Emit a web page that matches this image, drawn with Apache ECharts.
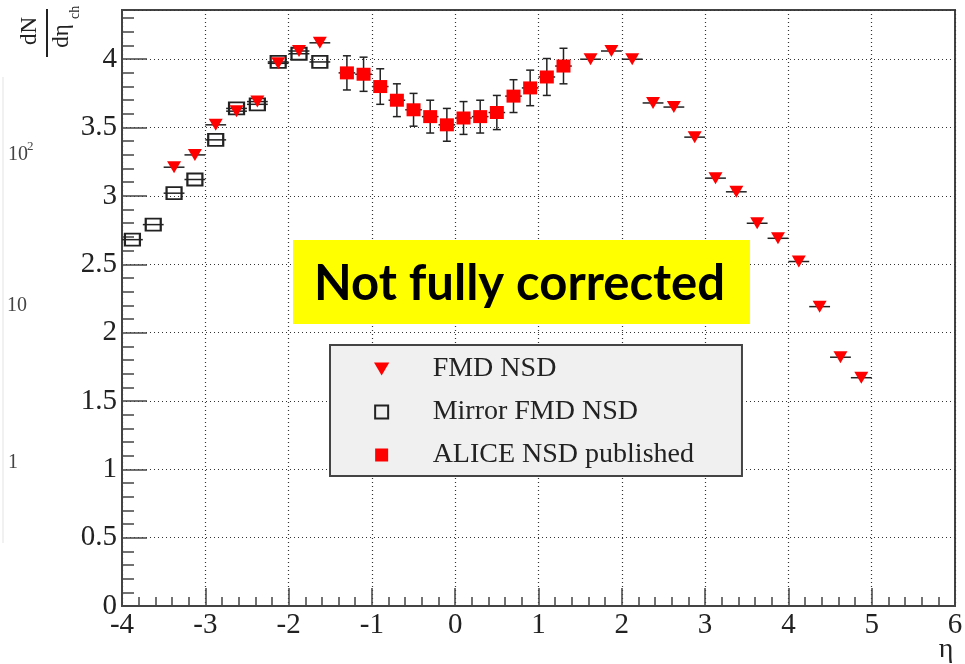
<!DOCTYPE html>
<html>
<head>
<meta charset="utf-8">
<script src="https://cdn.jsdelivr.net/npm/echarts@6/dist/echarts.min.js"></script>
<style>
  html, body { margin: 0; padding: 0; background: #ffffff; }
  #chart { width: 965px; height: 664px; }
</style>
</head>
<body>
<div id="chart"></div>
<script>
// FMD NSD, bins of width 0.25 in eta
const FMD_ETA = [-3.375, -3.125, -2.875, -2.625, -2.375, -2.125, -1.875, -1.625,
                 1.625, 1.875, 2.125, 2.375, 2.625, 2.875, 3.125, 3.375, 3.625, 3.875, 4.125, 4.375, 4.625, 4.875];
const FMD_DNDETA = [3.21, 3.30, 3.52, 3.62, 3.69, 3.97, 4.06, 4.12,
                    4.00, 4.06, 4.00, 3.68, 3.65, 3.43, 3.13, 3.03, 2.80, 2.69, 2.52, 2.19, 1.82, 1.67];
const FMD_HALF_BIN = 0.125;

// FMD NSD reflected to negative eta
const MIRROR_ETA = [-3.875, -3.625, -3.375, -3.125, -2.875, -2.625, -2.375, -2.125, -1.875, -1.625];
const MIRROR_DNDETA = [2.68, 2.79, 3.02, 3.12, 3.41, 3.64, 3.67, 3.98, 4.04, 3.98];

// ALICE published NSD, bins of width 0.2
const ALICE_ETA = [-1.3, -1.1, -0.9, -0.7, -0.5, -0.3, -0.1, 0.1, 0.3, 0.5, 0.7, 0.9, 1.1, 1.3];
const ALICE_DNDETA = [3.90, 3.89, 3.80, 3.70, 3.63, 3.58, 3.52, 3.57, 3.58, 3.61, 3.73, 3.79, 3.87, 3.95];
const ALICE_ERR = [0.125, 0.125, 0.13, 0.12, 0.12, 0.12, 0.12, 0.12, 0.12, 0.125, 0.12, 0.13, 0.135, 0.13];
const ALICE_HALF_BIN = 0.1;

// axis ranges
const X_MIN = -4, X_MAX = 6, X_STEP = 1;
const Y_MIN = 0, Y_MAX = 4.36, Y_STEP = 0.5, Y_MINOR_STEP = 0.1;
// faint labels of the log-scale panel behind
const LOG_LABELS = ['10', '10', '1'];

const SERIF = '"Liberation Serif", serif';
const INK = '#222222';
const AXIS = '#444444';
const RED = '#ff0000';

const chart = echarts.init(document.getElementById('chart'), null, { renderer: 'canvas' });

function hBar(halfBin) {
  return function (params, api) {
    const x = api.value(0), y = api.value(1);
    const l = api.coord([x - halfBin, y]);
    const r = api.coord([x + halfBin, y]);
    return {
      type: 'line',
      shape: { x1: l[0], y1: l[1], x2: r[0], y2: r[1] },
      style: { stroke: INK, lineWidth: 1.5 }
    };
  };
}

function aliceBars(params, api) {
  const x = api.value(0), y = api.value(1), e = api.value(2);
  const top = api.coord([x, y + e]);
  const bot = api.coord([x, y - e]);
  const l = api.coord([x - ALICE_HALF_BIN, y]);
  const r = api.coord([x + ALICE_HALF_BIN, y]);
  const cap = 4;
  const st = { stroke: INK, lineWidth: 1.5 };
  return {
    type: 'group',
    children: [
      { type: 'line', shape: { x1: top[0], y1: top[1], x2: bot[0], y2: bot[1] }, style: st },
      { type: 'line', shape: { x1: top[0] - cap, y1: top[1], x2: top[0] + cap, y2: top[1] }, style: st },
      { type: 'line', shape: { x1: bot[0] - cap, y1: bot[1], x2: bot[0] + cap, y2: bot[1] }, style: st },
      { type: 'line', shape: { x1: l[0], y1: l[1], x2: r[0], y2: r[1] }, style: st }
    ]
  };
}

const fmdData = FMD_ETA.map((x, i) => [x, FMD_DNDETA[i]]);
const mirrorData = MIRROR_ETA.map((x, i) => [x, MIRROR_DNDETA[i]]);
const aliceData = ALICE_ETA.map((x, i) => [x, ALICE_DNDETA[i], ALICE_ERR[i]]);

const TRI_DOWN = 'path://M0,0 L20,0 L10,17 Z';
const SQUARE = 'path://M0,0 L20,0 L20,20 L0,20 Z';
const dotted = { type: [1, 3], color: '#333333', width: 1.2 };
const tickFont = { fontFamily: SERIF, fontSize: 29, color: INK };

const option = {
  animation: false,
  backgroundColor: '#ffffff',
  textStyle: { fontFamily: SERIF },
  grid: {
    left: 122, right: 10, top: 10, bottom: 58,
    show: true, borderColor: AXIS, borderWidth: 2, backgroundColor: 'transparent',
    containLabel: false, outerBoundsMode: 'none'
  },
  xAxis: {
    type: 'value', min: X_MIN, max: X_MAX, interval: X_STEP,
    axisLine: { show: true, onZero: false, lineStyle: { color: AXIS, width: 2 } },
    axisTick: { show: true, inside: true, length: 18, lineStyle: { color: AXIS, width: 1.5 } },
    minorTick: { show: true, splitNumber: 5, length: 9, lineStyle: { color: AXIS, width: 1.5 } },
    minorSplitLine: { show: false },
    axisLabel: Object.assign({ show: true, margin: 5 }, tickFont),
    splitLine: { show: true, lineStyle: dotted }
  },
  yAxis: [
    {
      type: 'value', min: Y_MIN, max: Y_MAX, interval: Y_STEP, position: 'left',
      axisLine: { show: true, onZero: false, lineStyle: { color: AXIS, width: 2 } },
      axisTick: { show: true, inside: true, length: 25, lineStyle: { color: AXIS, width: 1.5 } },
      axisLabel: Object.assign({
        show: true, margin: 5, showMaxLabel: false,
        formatter: v => (v > 4.01 ? '' : String(v))
      }, tickFont),
      splitLine: { show: true, lineStyle: dotted }
    },
    {
      type: 'value', min: Y_MIN, max: Y_MAX, interval: Y_MINOR_STEP, position: 'left',
      axisLine: { show: false, onZero: false },
      axisTick: { show: true, inside: true, length: 12, lineStyle: { color: AXIS, width: 1.5 } },
      axisLabel: { show: false },
      splitLine: { show: false }
    }
  ],
  legend: {
    orient: 'vertical',
    left: 330, top: 345,
    padding: [10, 48, 7, 44],
    backgroundColor: '#f0f0f0',
    borderColor: AXIS, borderWidth: 2, borderRadius: 0,
    itemWidth: 92, itemHeight: 13, itemGap: 15,
    symbolKeepAspect: true,
    textStyle: { fontFamily: SERIF, fontSize: 28, color: INK },
    selectedMode: false,
    data: [
      { name: 'FMD NSD', icon: TRI_DOWN, itemStyle: { color: RED, borderWidth: 0 } },
      { name: 'Mirror FMD NSD', icon: SQUARE, itemStyle: { color: 'rgba(0,0,0,0)', borderColor: INK, borderWidth: 2 } },
      { name: 'ALICE NSD published', icon: SQUARE, itemStyle: { color: RED, borderWidth: 0 } }
    ]
  },
  series: [
    {
      name: 'mirror-bins', type: 'custom', renderItem: hBar(FMD_HALF_BIN),
      data: mirrorData, encode: { x: 0, y: 1 }, z: 2, silent: true
    },
    {
      name: 'Mirror FMD NSD', type: 'scatter', data: mirrorData,
      symbol: 'rect', symbolSize: [15, 12],
      itemStyle: { color: 'rgba(0,0,0,0)', borderColor: INK, borderWidth: 2, opacity: 1 },
      z: 3
    },
    {
      name: 'fmd-bins', type: 'custom', renderItem: hBar(FMD_HALF_BIN),
      data: fmdData, encode: { x: 0, y: 1 }, z: 2, silent: true
    },
    {
      name: 'FMD NSD', type: 'scatter', data: fmdData,
      symbol: TRI_DOWN, symbolSize: [14, 12],
      itemStyle: { color: RED, opacity: 1 },
      z: 4
    },
    {
      name: 'alice-errors', type: 'custom', renderItem: aliceBars,
      data: aliceData, encode: { x: 0, y: 1 }, z: 2, silent: true
    },
    {
      name: 'ALICE NSD published', type: 'scatter', data: aliceData.map(d => [d[0], d[1]]),
      symbol: 'rect', symbolSize: [14, 13],
      itemStyle: { color: RED, opacity: 1 },
      z: 4
    }
  ],
  graphic: [
    // annotation box
    {
      type: 'rect', z: 100,
      shape: { x: 293, y: 240, width: 457, height: 84 },
      style: { fill: '#ffff00' }
    },
    {
      type: 'text', z: 101, x: 519.5, y: 284,
      style: {
        text: 'Not fully corrected', align: 'center', verticalAlign: 'middle',
        font: 'bold 49px Lato, "Open Sans", sans-serif', fill: '#000000'
      }
    },
    // rotated y-axis title dN/deta_ch
    {
      type: 'group', x: 47, y: 33, rotation: Math.PI / 2, z: 100,
      children: [
        {
          type: 'text', x: 2, y: -6,
          style: { text: 'dN', align: 'center', verticalAlign: 'bottom', font: '23px ' + SERIF, fill: INK }
        },
        {
          type: 'line', shape: { x1: -24, y1: 0, x2: 24, y2: 0 },
          style: { stroke: INK, lineWidth: 2 }
        },
        {
          type: 'text', x: -3, y: 3,
          style: { text: 'd\u03b7', align: 'center', verticalAlign: 'top', font: '23px ' + SERIF, fill: INK }
        },
        {
          type: 'text', x: 14, y: 21,
          style: { text: 'ch', align: 'left', verticalAlign: 'top', font: '14px ' + SERIF, fill: INK }
        }
      ]
    },
    // x-axis title
    {
      type: 'text', z: 100, x: 946, y: 650,
      style: { text: '\u03b7', align: 'center', verticalAlign: 'middle', font: '28px ' + SERIF, fill: INK }
    },
    // faint edge of the panel behind, with its log labels
    {
      type: 'line', z: 1, shape: { x1: 3, y1: 77, x2: 3, y2: 543 },
      style: { stroke: '#ececec', lineWidth: 1.5 }
    },
    {
      type: 'text', z: 1, x: 8, y: 155,
      style: { text: LOG_LABELS[0], align: 'left', verticalAlign: 'middle', font: '20px ' + SERIF, fill: '#444444' }
    },
    {
      type: 'text', z: 1, x: 27, y: 147,
      style: { text: '2', align: 'left', verticalAlign: 'middle', font: '13px ' + SERIF, fill: '#444444' }
    },
    {
      type: 'text', z: 1, x: 7, y: 306,
      style: { text: LOG_LABELS[1], align: 'left', verticalAlign: 'middle', font: '20px ' + SERIF, fill: '#444444' }
    },
    {
      type: 'text', z: 1, x: 8, y: 463,
      style: { text: LOG_LABELS[2], align: 'left', verticalAlign: 'middle', font: '20px ' + SERIF, fill: '#444444' }
    }
  ]
};

chart.setOption(option);
</script>
</body>
</html>
